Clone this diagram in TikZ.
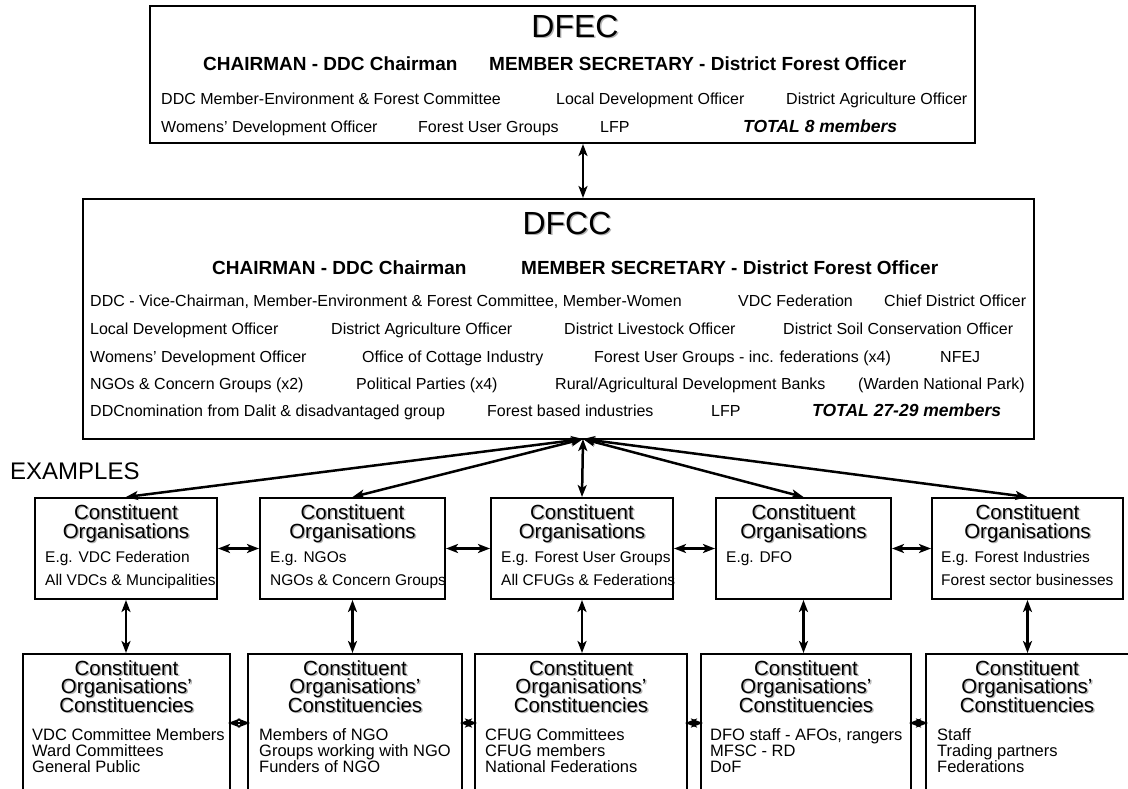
\documentclass[tikz,border=0pt]{standalone}
\usepackage{fontspec}
\setmainfont{Liberation Sans}
\usetikzlibrary{arrows.meta}
\newcommand{\shtxt}[1]{\makebox[0pt][l]{\hspace{1.4pt}\smash{\raisebox{-1.4pt}{\textcolor{black!30}{#1}}}}#1}
\begin{document}
\begin{tikzpicture}[x=1pt, y=-1pt, >={Stealth[length=12pt,width=9pt,inset=3pt]}]
    \tikzstyle{box_style} = [rectangle, draw, line width=2pt, inner sep=0]
    \tikzstyle{edge_style} = [<->, line width=2.5pt]
    \tikzstyle{title_text} = [inner sep=0, anchor=base, font=\fontsize{32}{36}\selectfont]
    \tikzstyle{bold_text} = [inner sep=0, anchor=base west, font=\fontsize{19}{22}\selectfont\bfseries]
    \tikzstyle{row_text} = [inner sep=0, anchor=base west, font=\fontsize{16}{19}\selectfont]
    \tikzstyle{total_text} = [inner sep=0, anchor=base west, font=\fontsize{17.5}{20}\selectfont\bfseries\itshape]
    \tikzstyle{head_text} = [inner sep=0, anchor=base, font=\fontsize{20.5}{24}\selectfont]
    \tikzstyle{org_text} = [inner sep=0, anchor=base west, font=\fontsize{15.5}{18}\selectfont]
    \tikzstyle{cons_text} = [inner sep=0, anchor=base west, font=\fontsize{16.5}{18}\selectfont]

    \path[use as bounding box] (0,0) rectangle (1128,788);
    \clip (0,0) rectangle (1128,788);

    % DFEC
    \node[box_style, minimum width=825, minimum height=137] (dfec) at (562.5,74.5) {};
    \node[title_text] (dfec_t) at (575,37) {\shtxt{DFEC}};
    \node[bold_text] (dfec_c) at (203,70) {CHAIRMAN - DDC Chairman};
    \node[bold_text] (dfec_s) at (489,70) {MEMBER SECRETARY - District Forest Officer};
    \node[row_text] (dfec_a1) at (161,104) {DDC Member-Environment \& Forest Committee};
    \node[row_text] (dfec_a2) at (556,104) {Local Development Officer};
    \node[row_text] (dfec_a3) at (786,104) {District Agriculture Officer};
    \node[row_text] (dfec_b1) at (161,132) {Womens' Development Officer};
    \node[row_text] (dfec_b2) at (418,132) {Forest User Groups};
    \node[row_text] (dfec_b3) at (600,132) {LFP};
    \node[total_text] (dfec_b4) at (743,132) {TOTAL 8 members};

    % DFCC
    \node[box_style, minimum width=951, minimum height=240] (dfcc) at (558.5,319) {};
    \coordinate (hub) at (583,439);
    \node[title_text] (dfcc_t) at (567,234) {\shtxt{DFCC}};
    \node[bold_text] (dfcc_c) at (212,274) {CHAIRMAN - DDC Chairman};
    \node[bold_text] (dfcc_s) at (521,274) {MEMBER SECRETARY - District Forest Officer};
    \node[row_text] (dfcc_a1) at (90,306) {DDC - Vice-Chairman, Member-Environment \& Forest Committee, Member-Women};
    \node[row_text] (dfcc_a2) at (738,306) {VDC Federation};
    \node[row_text] (dfcc_a3) at (884,306) {Chief District Officer};
    \node[row_text] (dfcc_b1) at (90,334) {Local Development Officer};
    \node[row_text] (dfcc_b2) at (331,334) {District Agriculture Officer};
    \node[row_text] (dfcc_b3) at (564,334) {District Livestock Officer};
    \node[row_text] (dfcc_b4) at (783,334) {District Soil Conservation Officer};
    \node[row_text] (dfcc_c1) at (90,362) {Womens' Development Officer};
    \node[row_text] (dfcc_c2) at (362,362) {Office of Cottage Industry};
    \node[row_text] (dfcc_c3) at (594,362) {Forest User Groups - inc. federations (x4)};
    \node[row_text] (dfcc_c4) at (940,362) {NFEJ};
    \node[row_text] (dfcc_d1) at (90,389) {NGOs \& Concern Groups (x2)};
    \node[row_text] (dfcc_d2) at (356,389) {Political Parties (x4)};
    \node[row_text] (dfcc_d3) at (555,389) {Rural/Agricultural Development Banks};
    \node[row_text] (dfcc_d4) at (858,389) {(Warden National Park)};
    \node[row_text] (dfcc_e1) at (90,416) {DDCnomination from Dalit \& disadvantaged group};
    \node[row_text] (dfcc_e2) at (487,416) {Forest based industries};
    \node[row_text] (dfcc_e3) at (711,416) {LFP};
    \node[total_text] (dfcc_e4) at (812,416) {TOTAL 27-29 members};

    \node[inner sep=0, anchor=base west, font=\fontsize{24}{28}\selectfont] (examples) at (10,479) {EXAMPLES};

    % constituent organisations
    \node[box_style, minimum width=182, minimum height=101] (m1) at (126,548.5) {};
    \node[box_style, minimum width=185, minimum height=101] (m2) at (352.5,548.5) {};
    \node[box_style, minimum width=182, minimum height=101] (m3) at (582,548.5) {};
    \node[box_style, minimum width=175, minimum height=101] (m4) at (803.5,548.5) {};
    \node[box_style, minimum width=191, minimum height=101] (m5) at (1027.5,548.5) {};

    \node[head_text] (m1_h1) at (126,519) {\shtxt{Constituent}};
    \node[head_text] (m1_h2) at (126,538) {\shtxt{Organisations}};
    \node[org_text] (m1_l1) at (45,562) {E.g. VDC Federation};
    \node[org_text] (m1_l2) at (45,585) {All VDCs \& Muncipalities};

    \node[head_text] (m2_h1) at (352.5,519) {\shtxt{Constituent}};
    \node[head_text] (m2_h2) at (352.5,538) {\shtxt{Organisations}};
    \node[org_text] (m2_l1) at (270,562) {E.g. NGOs};
    \node[org_text] (m2_l2) at (270,585) {NGOs \& Concern Groups};

    \node[head_text] (m3_h1) at (582,519) {\shtxt{Constituent}};
    \node[head_text] (m3_h2) at (582,538) {\shtxt{Organisations}};
    \node[org_text] (m3_l1) at (501,562) {E.g. Forest User Groups};
    \node[org_text] (m3_l2) at (501,585) {All CFUGs \& Federations};

    \node[head_text] (m4_h1) at (803.5,519) {\shtxt{Constituent}};
    \node[head_text] (m4_h2) at (803.5,538) {\shtxt{Organisations}};
    \node[org_text] (m4_l1) at (726,562) {E.g. DFO};

    \node[head_text] (m5_h1) at (1027.5,519) {\shtxt{Constituent}};
    \node[head_text] (m5_h2) at (1027.5,538) {\shtxt{Organisations}};
    \node[org_text] (m5_l1) at (941,562) {E.g. Forest Industries};
    \node[org_text] (m5_l2) at (941,585) {Forest sector businesses};

    % constituencies
    \node[box_style, minimum width=207, minimum height=138] (b1) at (126.5,723) {};
    \node[box_style, minimum width=214, minimum height=138] (b2) at (355,723) {};
    \node[box_style, minimum width=212, minimum height=138] (b3) at (581,723) {};
    \node[box_style, minimum width=210, minimum height=138] (b4) at (806,723) {};
    \node[box_style, minimum width=212, minimum height=138] (b5) at (1032,723) {};

    \node[head_text] (b1_h1) at (126.5,675) {\shtxt{Constituent}};
    \node[head_text] (b1_h2) at (126.5,693) {\shtxt{Organisations'}};
    \node[head_text] (b1_h3) at (126.5,712) {\shtxt{Constituencies}};
    \node[cons_text] (b1_l1) at (32,740) {VDC Committee Members};
    \node[cons_text] (b1_l2) at (32,756) {Ward Committees};
    \node[cons_text] (b1_l3) at (32,772) {General Public};

    \node[head_text] (b2_h1) at (355,675) {\shtxt{Constituent}};
    \node[head_text] (b2_h2) at (355,693) {\shtxt{Organisations'}};
    \node[head_text] (b2_h3) at (355,712) {\shtxt{Constituencies}};
    \node[cons_text] (b2_l1) at (259,740) {Members of NGO};
    \node[cons_text] (b2_l2) at (259,756) {Groups working with NGO};
    \node[cons_text] (b2_l3) at (259,772) {Funders of NGO};

    \node[head_text] (b3_h1) at (581,675) {\shtxt{Constituent}};
    \node[head_text] (b3_h2) at (581,693) {\shtxt{Organisations'}};
    \node[head_text] (b3_h3) at (581,712) {\shtxt{Constituencies}};
    \node[cons_text] (b3_l1) at (485,740) {CFUG Committees};
    \node[cons_text] (b3_l2) at (485,756) {CFUG members};
    \node[cons_text] (b3_l3) at (485,772) {National Federations};

    \node[head_text] (b4_h1) at (806,675) {\shtxt{Constituent}};
    \node[head_text] (b4_h2) at (806,693) {\shtxt{Organisations'}};
    \node[head_text] (b4_h3) at (806,712) {\shtxt{Constituencies}};
    \node[cons_text] (b4_l1) at (710,740) {DFO staff - AFOs, rangers};
    \node[cons_text] (b4_l2) at (710,756) {MFSC - RD};
    \node[cons_text] (b4_l3) at (710,772) {DoF};

    \node[head_text] (b5_h1) at (1027,675) {\shtxt{Constituent}};
    \node[head_text] (b5_h2) at (1027,693) {\shtxt{Organisations'}};
    \node[head_text] (b5_h3) at (1027,712) {\shtxt{Constituencies}};
    \node[cons_text] (b5_l1) at (937,740) {Staff};
    \node[cons_text] (b5_l2) at (937,756) {Trading partners};
    \node[cons_text] (b5_l3) at (937,772) {Federations};

    % arrows
    \draw[edge_style] (dfec.south -| hub) -- (dfcc.north -| hub);
    \draw[edge_style] (hub) -- (m1.north);
    \draw[edge_style] (hub) -- (m2.north);
    \draw[edge_style] (hub) -- (m3.north);
    \draw[edge_style] (hub) -- (m4.north);
    \draw[edge_style] (hub) -- (m5.north);
    \draw[edge_style] (m1.east) -- (m2.west);
    \draw[edge_style] (m2.east) -- (m3.west);
    \draw[edge_style] (m3.east) -- (m4.west);
    \draw[edge_style] (m4.east) -- (m5.west);
    \draw[edge_style] (m1.south) -- (m1.south |- b1.north);
    \draw[edge_style] (m2.south) -- (m2.south |- b2.north);
    \draw[edge_style] (m3.south) -- (m3.south |- b3.north);
    \draw[edge_style] (m4.south) -- (m4.south |- b4.north);
    \draw[edge_style] (m5.south) -- (m5.south |- b5.north);
    \draw[edge_style, shorten <=-3pt, shorten >=-3pt] (b1.east) -- (b2.west);
    \draw[edge_style, shorten <=-3pt, shorten >=-3pt] (b2.east) -- (b3.west);
    \draw[edge_style, shorten <=-3pt, shorten >=-3pt] (b3.east) -- (b4.west);
    \draw[edge_style, shorten <=-3pt, shorten >=-3pt] (b4.east) -- (b5.west);
\end{tikzpicture}
\end{document}
